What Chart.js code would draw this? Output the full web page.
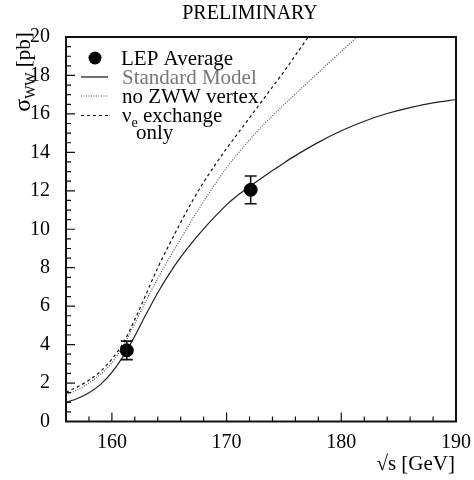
<!DOCTYPE html>
<html>
<head>
<meta charset="utf-8">
<script src="https://cdn.jsdelivr.net/npm/chart.js@4.4.0/dist/chart.umd.min.js"></script>
<style>
  html, body { margin: 0; padding: 0; background: #fff; }
  #wrap { width: 474px; height: 480px; }
</style>
</head>
<body>
<div id="wrap"><canvas id="myChart"></canvas></div>
<script>
// Data
const lepEnergy = [161.3, 172.1];
const lepXsec = [3.7, 12.05];
const lepErr = [0.48, 0.72];

const smEnergy = [156, 157, 158, 159, 160, 161, 162, 163, 164, 165, 166, 167, 168, 169, 170, 171, 172, 173, 174, 175, 176, 178, 180, 182, 184, 186, 188, 190];
const smXsec = [1.0, 1.2, 1.5, 1.92, 2.55, 3.4, 4.45, 5.6, 6.7, 7.68, 8.55, 9.32, 10.02, 10.67, 11.27, 11.78, 12.22, 12.64, 13.05, 13.45, 13.83, 14.52, 15.12, 15.62, 16.02, 16.33, 16.57, 16.75];

const noZwwEnergy = [156, 157, 158, 159, 160, 161, 162, 163, 164, 165, 166, 167, 168, 169, 170, 171, 172, 173, 174, 175, 176, 177, 178, 179, 180, 181, 182];
const noZwwXsec = [1.38, 1.65, 2.0, 2.45, 3.05, 3.95, 5.1, 6.3, 7.45, 8.5, 9.5, 10.5, 11.45, 12.35, 13.2, 13.95, 14.65, 15.3, 15.9, 16.48, 17.04, 17.6, 18.15, 18.7, 19.25, 19.8, 20.35];

const nueEnergy = [156, 157, 158, 159, 160, 161, 162, 163, 164, 165, 166, 167, 168, 169, 170, 171, 172, 173, 174, 175, 176, 177, 178];
const nueXsec = [1.52, 1.8, 2.15, 2.6, 3.25, 4.1, 5.3, 6.65, 8.0, 9.2, 10.35, 11.45, 12.45, 13.35, 14.2, 15.0, 15.8, 16.6, 17.4, 18.2, 19.05, 19.9, 20.8];

const xTickLabels = [160, 170, 180, 190];
const yTickLabels = [0, 2, 4, 6, 8, 10, 12, 14, 16, 18, 20];

const toPoints = (xs, ys) => xs.map((x, i) => ({ x: x, y: ys[i] }));
const SERIF = '"Liberation Serif", "DejaVu Serif", serif';

// inward ticks, frame, error bars, legend and titles
const decorations = {
    id: 'decorations',
    afterDatasetsDraw(chart) {
        const { ctx, chartArea: a, scales: { x, y } } = chart;
        ctx.save();
        ctx.strokeStyle = '#111';

        // error bars
        ctx.lineWidth = 1.6;
        ctx.beginPath();
        lepEnergy.forEach((e, i) => {
            const px = x.getPixelForValue(e);
            const top = y.getPixelForValue(lepXsec[i] + lepErr[i]);
            const bot = y.getPixelForValue(lepXsec[i] - lepErr[i]);
            ctx.moveTo(px, top); ctx.lineTo(px, bot);
            ctx.moveTo(px - 6, top); ctx.lineTo(px + 6, top);
            ctx.moveTo(px - 6, bot); ctx.lineTo(px + 6, bot);
        });
        ctx.stroke();

        // ticks pointing inward
        ctx.lineWidth = 1.2;
        ctx.beginPath();
        for (let v = 158; v < 190; v += 2) {
            const px = x.getPixelForValue(v);
            const len = v % 10 === 0 ? 9 : 5;
            ctx.moveTo(px, a.bottom); ctx.lineTo(px, a.bottom - len);
        }
        for (let v = 0.5; v < 20; v += 0.5) {
            const py = y.getPixelForValue(v);
            const len = v % 2 === 0 ? 9 : 5;
            ctx.moveTo(a.left, py); ctx.lineTo(a.left + len, py);
        }
        ctx.stroke();

        // frame
        ctx.lineWidth = 2;
        ctx.strokeRect(a.left, a.top, a.right - a.left, a.bottom - a.top);

        // legend
        ctx.fillStyle = '#000';
        ctx.beginPath();
        ctx.arc(95, 58, 6.5, 0, Math.PI * 2);
        ctx.fill();

        ctx.lineWidth = 1.2;
        ctx.beginPath();
        ctx.moveTo(81, 77); ctx.lineTo(108, 77);
        ctx.stroke();

        ctx.strokeStyle = '#555';
        ctx.setLineDash([1, 1.5]);
        ctx.beginPath();
        ctx.moveTo(81, 96); ctx.lineTo(108, 96);
        ctx.stroke();

        ctx.strokeStyle = '#111';
        ctx.setLineDash([3, 3]);
        ctx.beginPath();
        ctx.moveTo(81, 115.5); ctx.lineTo(108, 115.5);
        ctx.stroke();
        ctx.setLineDash([]);

        ctx.font = '21px ' + SERIF;
        ctx.textBaseline = 'alphabetic';
        ctx.textAlign = 'left';
        ctx.fillStyle = '#000';
        ctx.fillText('LEP Average', 121, 65);
        ctx.fillStyle = '#777';
        ctx.fillText('Standard Model', 122, 84);
        ctx.fillStyle = '#000';
        ctx.fillText('no ZWW vertex', 122, 103);
        ctx.fillText('\u03bd', 122, 122);
        const nuW = ctx.measureText('\u03bd').width;
        ctx.font = '14px ' + SERIF;
        ctx.fillText('e', 122 + nuW, 127);
        const eW = ctx.measureText('e').width;
        ctx.font = '21px ' + SERIF;
        ctx.fillText(' exchange', 122 + nuW + eW, 122);
        ctx.fillText('only', 136, 139);

        // main title
        ctx.font = '20px ' + SERIF;
        ctx.textAlign = 'center';
        ctx.fillText('PRELIMINARY', 250, 19);

        // x axis title
        ctx.font = '21px ' + SERIF;
        ctx.textAlign = 'right';
        ctx.fillText('\u221as [GeV]', 455, 470);

        // y axis title, rotated
        ctx.save();
        ctx.translate(30, 0);
        ctx.rotate(-Math.PI / 2);
        ctx.textAlign = 'left';
        ctx.font = '24px ' + SERIF;
        const sigW = ctx.measureText('\u03c3').width;
        ctx.font = '14px ' + SERIF;
        const wwW = ctx.measureText('WW').width;
        ctx.font = '21px ' + SERIF;
        const pbW = ctx.measureText(' [pb]').width;
        let sx = -(72 + (sigW + wwW + pbW) / 2);
        ctx.font = '24px ' + SERIF;
        ctx.fillText('\u03c3', sx, 0);
        ctx.font = '14px ' + SERIF;
        ctx.fillText('WW', sx + sigW, 5);
        ctx.font = '21px ' + SERIF;
        ctx.fillText(' [pb]', sx + sigW + wwW, 0);
        ctx.restore();

        ctx.restore();
    }
};

const ctx = document.getElementById('myChart').getContext('2d');
new Chart(ctx, {
    type: 'scatter',
    data: {
        datasets: [
            {
                label: 'LEP Average',
                data: toPoints(lepEnergy, lepXsec),
                backgroundColor: '#000',
                borderColor: '#000',
                pointRadius: 6.5,
                showLine: false
            },
            {
                label: 'Standard Model',
                data: toPoints(smEnergy, smXsec),
                borderColor: '#222',
                borderWidth: 1.2,
                pointRadius: 0,
                showLine: true,
                cubicInterpolationMode: 'monotone'
            },
            {
                label: 'no ZWW vertex',
                data: toPoints(noZwwEnergy, noZwwXsec),
                borderColor: '#555',
                borderWidth: 1.2,
                borderDash: [1, 1.5],
                pointRadius: 0,
                showLine: true,
                cubicInterpolationMode: 'monotone'
            },
            {
                label: 'nu_e exchange only',
                data: toPoints(nueEnergy, nueXsec),
                borderColor: '#111',
                borderWidth: 1.2,
                borderDash: [3, 3],
                pointRadius: 0,
                showLine: true,
                cubicInterpolationMode: 'monotone'
            }
        ]
    },
    options: {
        responsive: true,
        maintainAspectRatio: false,
        animation: false,
        layout: { padding: { top: 37, right: 18, left: 0, bottom: 0 } },
        plugins: {
            legend: { display: false },
            tooltip: { enabled: false }
        },
        scales: {
            x: {
                type: 'linear',
                min: 156,
                max: 190,
                afterBuildTicks: (scale) => { scale.ticks = xTickLabels.map(v => ({ value: v })); },
                afterFit: (scale) => { scale.height = 58.5; },
                grid: { display: false },
                border: { display: false },
                ticks: { color: '#000', padding: 1, maxRotation: 0, font: { family: SERIF, size: 20 } }
            },
            y: {
                type: 'linear',
                min: 0,
                max: 20,
                afterBuildTicks: (scale) => { scale.ticks = yTickLabels.map(v => ({ value: v })); },
                afterFit: (scale) => { scale.width = 66; },
                grid: { display: false },
                border: { display: false },
                ticks: { color: '#000', padding: 8, font: { family: SERIF, size: 20 } }
            }
        }
    },
    plugins: [decorations]
});
</script>
</body>
</html>
